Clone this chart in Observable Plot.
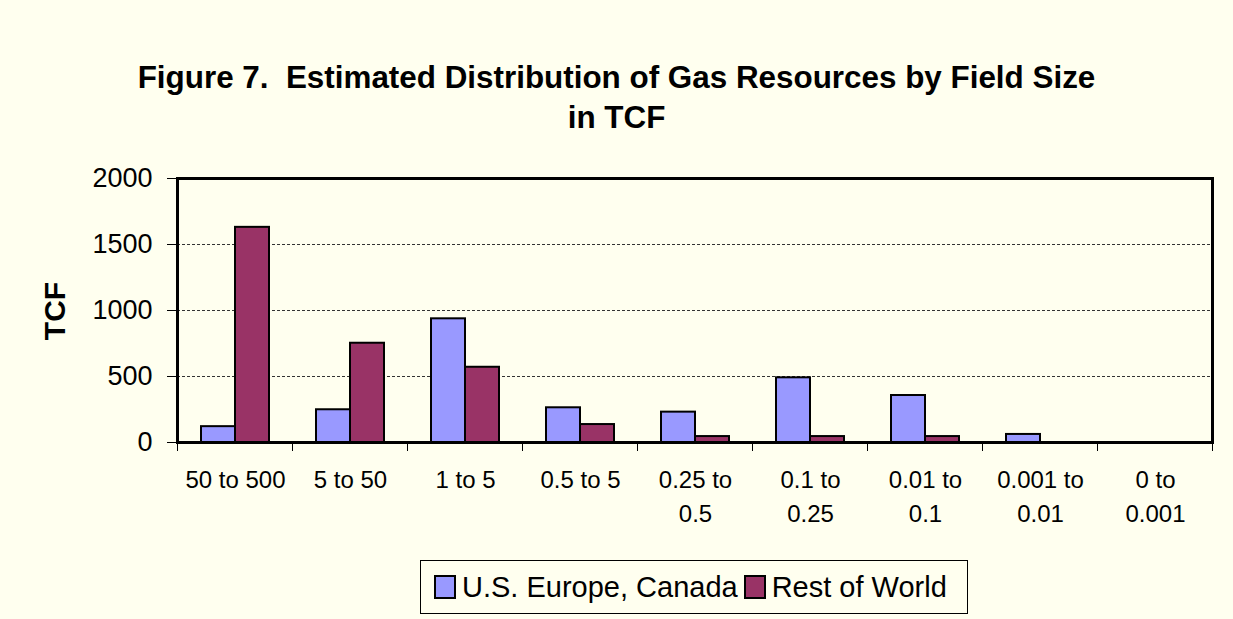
<!DOCTYPE html>
<html>
<head>
<meta charset="utf-8">
<script src="https://cdn.jsdelivr.net/npm/d3@7"></script>
<script src="https://cdn.jsdelivr.net/npm/@observablehq/plot@0.6"></script>
<style>
  html, body { margin: 0; padding: 0; background: #FFFFEF; }
  #chart { position: relative; width: 1233px; height: 619px; background: #FFFFEF; font-family: "Liberation Sans", Arial, sans-serif; color: #000; overflow: hidden; }
  #title { position: absolute; left: 0; top: 58px; width: 1233px; text-align: center; font-weight: bold; font-size: 31.4px; line-height: 40px; }
  #ylabel { position: absolute; left: 55px; top: 311px; transform: translate(-50%, -50%) rotate(-90deg); font-weight: bold; font-size: 30px; white-space: nowrap; }
  .layer { position: absolute; left: 0; top: 0; }
  #legend { position: absolute; left: 420px; top: 560px; width: 548px; height: 54px; box-sizing: border-box; border: 1px solid #000; display: flex; align-items: center; padding-left: 13px; font-size: 29px; white-space: nowrap; }
  .sw { display: inline-block; width: 18px; height: 20px; border: 2px solid #000; margin-right: 6px; }
  .item { display: inline-flex; align-items: center; margin-right: 6px; }
</style>
</head>
<body>
<div id="chart">
  <div id="title">Figure 7.&nbsp; Estimated Distribution of Gas Resources by Field Size<br>in TCF</div>
  <div id="ylabel">TCF</div>
  <div id="legend"></div>
</div>
<script>
const categories = ["50 to 500", "5 to 50", "1 to 5", "0.5 to 5", "0.25 to 0.5", "0.1 to 0.25", "0.01 to 0.1", "0.001 to 0.01", "0 to 0.001"];
const usEuropeCanada = [120, 248, 937, 263, 230, 490, 356, 61, 0];
const restOfWorld = [1630, 752, 570, 136, 45, 45, 45, 0, 0];
const seriesNames = ["U.S. Europe, Canada", "Rest of World"];
const seriesColors = ["#9999FF", "#993366"];
const yTicks = [0, 500, 1000, 1500, 2000];
const gridValues = [500, 1000, 1500];

const rows = categories.map((c, i) => ({cat: c, us: usEuropeCanada[i], row: restOfWorld[i]}));
const wrap = s => s.length > 9 ? s.replace(" to ", " to\n") : s;

const W = 1233, H = 540;
const margins = {marginLeft: 177, marginRight: 21, marginTop: 178, marginBottom: 98};
const font = "'Liberation Sans', Arial, sans-serif";

// Base layer: frame, gridlines, y axis, category boundary ticks
const base = Plot.plot({
  width: W, height: H, ...margins,
  style: {background: "transparent", fontFamily: font, fontSize: "27px", color: "#000"},
  x: {domain: [0, categories.length], ticks: d3.range(0, categories.length + 1), tickFormat: () => "", tickSize: 9, label: null},
  y: {domain: [0, 2000], ticks: yTicks, tickFormat: d3.format("d"), tickSize: 10, tickPadding: 15, label: null},
  marks: [
    Plot.ruleX([0, categories.length], {strokeOpacity: 0}),
    Plot.ruleY(gridValues, {stroke: "#333", strokeWidth: 1, strokeDasharray: "3,2"}),
    Plot.frame({stroke: "#000", strokeWidth: 3})
  ]
});
base.classList.add("layer");

// Bars layer: grouped bars by facet
const bars = Plot.plot({
  width: W, height: H, ...margins,
  style: {background: "transparent", fontFamily: font, fontSize: "24px", color: "#000"},
  facet: {data: rows, x: "cat"},
  fx: {domain: categories, paddingInner: 0.41, paddingOuter: 0.205, axis: null, label: null},
  x: {domain: seriesNames, padding: 0, axis: null},
  y: {domain: [0, 2000], axis: null},
  marks: [
    Plot.barY(rows, {x: () => seriesNames[0], y: "us", fill: seriesColors[0], stroke: "#000", strokeWidth: 2, inset: 0}),
    Plot.barY(rows, {x: () => seriesNames[1], y: "row", fill: seriesColors[1], stroke: "#000", strokeWidth: 2, inset: 0}),
    Plot.text(rows, {text: d => wrap(d.cat), frameAnchor: "bottom", lineAnchor: "top", dy: 22, lineHeight: 1.4, fontSize: 24, fill: "#000"})
  ]
});
bars.classList.add("layer");

const chart = document.getElementById("chart");
chart.appendChild(base);
chart.appendChild(bars);

const legend = document.getElementById("legend");
seriesNames.forEach((name, i) => {
  const item = document.createElement("span");
  item.className = "item";
  const sw = document.createElement("span");
  sw.className = "sw";
  sw.style.background = seriesColors[i];
  const t = document.createElement("span");
  t.textContent = name;
  item.appendChild(sw);
  item.appendChild(t);
  legend.appendChild(item);
});
</script>
</body>
</html>
